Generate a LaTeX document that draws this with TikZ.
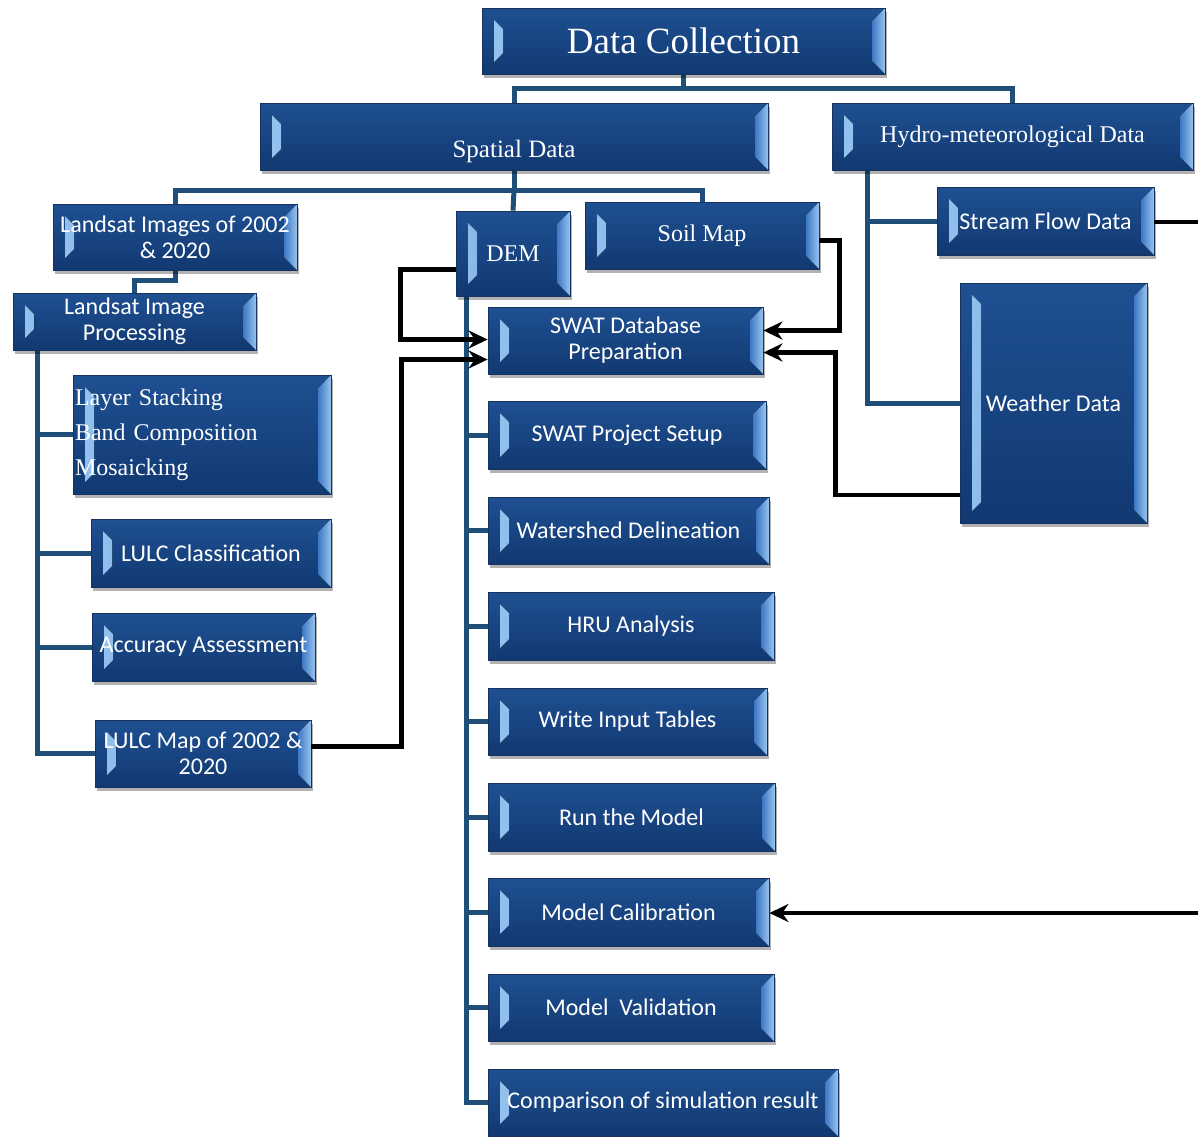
\documentclass[tikz,border=0pt]{standalone}
\usepackage{fontspec}
\setmainfont{Liberation Serif}
\newfontfamily\carl{Carlito}
\usetikzlibrary{arrows.meta,shadows,backgrounds}
\definecolor{boxtop}{RGB}{31,80,146}
\definecolor{boxbot}{RGB}{17,57,114}
\definecolor{boxline}{RGB}{22,50,95}
\definecolor{bevhi}{RGB}{150,196,240}
\definecolor{bevlo}{RGB}{62,120,196}
\definecolor{treeblue}{RGB}{31,78,121}
\tikzset{
  blk/.style={draw=boxline, line width=0.8pt, top color=boxtop, bottom color=boxbot,
    text=white, inner sep=2pt, align=center,
    drop shadow={shadow xshift=2pt, shadow yshift=-4pt, opacity=0.3, fill=black},
    path picture={
      \fill[left color=bevhi, right color=bevlo]
        ([shift={(12pt,-12pt)}]path picture bounding box.north west) --
        ([shift={(21pt,-21pt)}]path picture bounding box.north west) --
        ([shift={(21pt,21pt)}]path picture bounding box.south west) --
        ([shift={(12pt,12pt)}]path picture bounding box.south west) -- cycle;
      \fill[left color=bevlo, right color=bevhi]
        (path picture bounding box.north east) --
        ([shift={(-13pt,-13pt)}]path picture bounding box.north east) --
        ([shift={(-13pt,13pt)}]path picture bounding box.south east) --
        (path picture bounding box.south east) -- cycle;
    }},
  sz/.style 2 args={minimum width=#1pt, minimum height=#2pt},
  tnr/.style={blk, font=\fontsize{24}{35}\selectfont},
  cbr/.style={blk, font=\carl\fontsize{24}{26}\selectfont},
  tree/.style={draw=treeblue, line width=5pt},
  arr/.style={->, draw=black, line width=4.5pt},
}
\begin{document}
\begin{tikzpicture}[x=1pt, y=-1pt, >={Stealth[length=19pt,width=18pt]}]
\useasboundingbox (0,0) rectangle (1198,1136);

% top levels
\node[tnr, sz={403}{66}, font=\fontsize{37}{40}\selectfont] (dc) at (683.5,41) {Data Collection};
\node[tnr, sz={508}{67}, font=\fontsize{25}{30}\selectfont, text height=41pt, text depth=0pt] (spatial) at (514,136.5) {Spatial Data};
\node[tnr, sz={361}{67}] (hydro) at (1012.5,136.5) {Hydro-meteorological Data};

% spatial inputs
\node[cbr, sz={244}{66}] (landsat) at (175,237) {Landsat Images of 2002\\\& 2020};
\node[cbr, sz={243}{57}] (lproc) at (134.5,321.5) {Landsat Image\\Processing};
\node[tnr, sz={114}{85}] (dem) at (513,253.5) {DEM};
\node[tnr, sz={234}{67}] (soil) at (702,235.5) {Soil Map};

% hydro inputs
\node[cbr, sz={217}{68}] (stream) at (1045.5,221) {Stream Flow Data};
\node[cbr, sz={187}{240}] (weather) at (1053.5,403) {Weather Data};

% image processing
\node[tnr, sz={258}{119}, text width=254pt, align=left] (stack) at (202,434.5) {Layer Stacking\\Band Composition\\Mosaicking};
\node[cbr, sz={240}{68}] (lulc) at (211,553) {LULC Classification};
\node[cbr, sz={223}{68}] (accu) at (203.5,647) {Accuracy Assessment};
\node[cbr, sz={216}{67}] (lmap) at (203,753.5) {LULC Map of 2002 \&\\2020};

% SWAT steps
\node[cbr, sz={275}{67}] (swatdb) at (625.5,340.5) {SWAT Database\\Preparation};
\node[cbr, sz={278}{68}] (setup) at (627,435) {SWAT Project Setup};
\node[cbr, sz={281}{67}] (delin) at (628.5,530.5) {Watershed Delineation};
\node[cbr, sz={286}{68}] (hru) at (631,626) {HRU Analysis};
\node[cbr, sz={279}{67}] (tables) at (627.5,721.5) {Write Input Tables};
\node[cbr, sz={287}{68}] (run) at (631.5,817) {Run the Model};
\node[cbr, sz={281}{68}] (calib) at (628.5,912) {Model Calibration};
\node[cbr, sz={286}{67}] (valid) at (631,1007.5) {Model\ \ Validation};
\node[cbr, sz={350}{67}] (compare) at (663,1102.5) {Comparison of simulation result};

% tree connectors
\begin{pgfonlayer}{background}
\draw[tree] (dc.south) -- ++(0,14) coordinate (j1);
\draw[tree] (spatial.north) |- (j1) -| (hydro.north);
\draw[tree] (spatial.south) -- ++(0,20) coordinate (j2);
\draw[tree] (landsat.north) |- (j2) -| (soil.north);
\draw[tree] (j2) -- (dem.north);
\draw[tree] (landsat.south) -- ++(0,10) -| (lproc.north);
\foreach \n in {stack,lulc,accu,lmap}
  \draw[tree] ([xshift=25pt]lproc.south west) |- (\n.west);
\foreach \n in {setup,delin,hru,tables,run,calib,valid,compare}
  \draw[tree] ([xshift=11pt]dem.south west) |- (\n.west);
\foreach \n in {stream,weather}
  \draw[tree] ([xshift=36pt]hydro.south west) |- (\n.west);
\end{pgfonlayer}

% data flow arrows
\draw[arr] ([yshift=-16pt]dem.west) -- ++(-55,0) |- ([yshift=1pt]swatdb.west);
\draw[arr] ([yshift=7pt]lmap.east) -- ++(90,0) |- ([yshift=-19pt]swatdb.west);
\draw[arr] ([yshift=-5pt]soil.east) -- ++(20,0) |- ([yshift=10pt]swatdb.east);
\draw[arr] ([yshift=-92pt]weather.west) -- ++(-124,0) |- ([yshift=-12pt]swatdb.east);
\begin{scope}
\clip (0,0) rectangle (1198,1136);
\draw[arr] ([yshift=-1pt]stream.east) -- ++(70,0) |- ([yshift=-1pt]calib.east);
\end{scope}
\end{tikzpicture}
\end{document}
